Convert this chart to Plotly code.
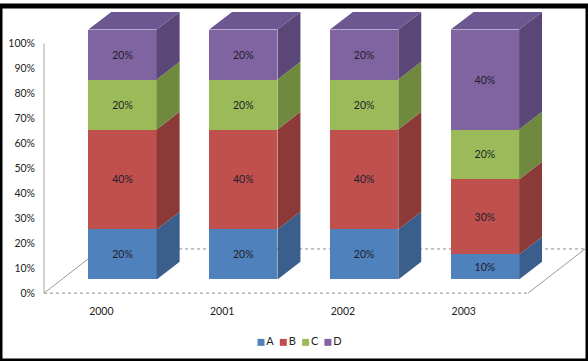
import plotly.graph_objects as go

# ---------------- data ----------------
years = ["2000", "2001", "2002", "2003"]
series_names = ["A", "B", "C", "D"]
series_A = [20, 20, 20, 10]
series_B = [40, 40, 40, 30]
series_C = [20, 20, 20, 20]
series_D = [20, 20, 20, 40]
y_ticks = [0, 10, 20, 30, 40, 50, 60, 70, 80, 90, 100]

# ---------------- styles ----------------
front_colors = ["#4F81BD", "#C0504D", "#9BBB59", "#8064A2"]
side_colors = ["#3A5F8D", "#8C3A38", "#6F8A3F", "#5B4777"]
top_color = "#6C5790"
FONT = "Lato"
W, H = 588, 361

# layout geometry (pixel based helpers)
CAT_PX0, CAT_PX = 122.5, 120.8          # px of first bar centre, px per category
PX_PER_PCT = 2.54                       # px per 1 %
AXIS_ZERO_PX, AXIS_TOP_PX = 292, 38     # y axis 0% / 100%
BAR_ZERO_PX = 278                       # front face bottom of bars
AXIS_BOTTOM_PX = 303
BAR_W = 0.566
DEPTH_DX, DEPTH_DY = 0.19, 7.09         # bar depth (category units, % units)
FLOOR_LEFT_PX, FLOOR_RIGHT_PX = 44, 528
FLOOR_DX, FLOOR_DY = 0.472, 17.7
LABEL_SHIFT = -0.175


def xval(px):
    return (px - CAT_PX0) / CAT_PX


def ydom(px):
    return (H - px) / H


series = [series_A, series_B, series_C, series_D]
xpos = list(range(len(years)))

fig = go.Figure()

# floor (on visible y axis subplot)
fl, fr = xval(FLOOR_LEFT_PX), xval(FLOOR_RIGHT_PX)
fig.add_trace(go.Scatter(
    x=[fl, fr, None, fl + FLOOR_DX, fr + FLOOR_DX],
    y=[0, 0, None, FLOOR_DY, FLOOR_DY],
    mode="lines", line=dict(color="#8c8c8c", width=1, dash="dot"),
    xaxis="x", yaxis="y", showlegend=False, hoverinfo="skip"))
fig.add_trace(go.Scatter(
    x=[fl, fl + FLOOR_DX, None, fr, fr + FLOOR_DX],
    y=[0, FLOOR_DY, None, 0, FLOOR_DY],
    mode="lines", line=dict(color="#9a9a9a", width=1),
    xaxis="x", yaxis="y", showlegend=False, hoverinfo="skip"))
# value axis line
fig.add_trace(go.Scatter(
    x=[fl, fl], y=[min(y_ticks), max(y_ticks)],
    mode="lines", line=dict(color="#a6a6a6", width=1),
    xaxis="x", yaxis="y", showlegend=False, hoverinfo="skip"))

# front faces (stacked bars)
for name, vals, col in zip(series_names, series, front_colors):
    fig.add_trace(go.Bar(
        x=xpos, y=vals, width=BAR_W, name=name,
        marker=dict(color=col, line=dict(width=0)),
        text=[f"{v}%" for v in vals], textposition="inside",
        insidetextanchor="middle", textangle=0,
        textfont=dict(family=FONT, size=10.5, color="#1e1e2a"),
        xaxis="x", yaxis="y2", showlegend=False, hoverinfo="skip"))

# side faces
cum = [0] * len(years)
for k, (vals, col) in enumerate(zip(series, side_colors)):
    xs, ys = [], []
    for i, v in enumerate(vals):
        xr = xpos[i] + BAR_W / 2
        y0, y1 = cum[i], cum[i] + v
        xs += [xr, xr + DEPTH_DX, xr + DEPTH_DX, xr, xr, None]
        ys += [y0, y0 + DEPTH_DY, y1 + DEPTH_DY, y1, y0, None]
        cum[i] = y1
    fig.add_trace(go.Scatter(
        x=xs, y=ys, mode="lines", fill="toself", fillcolor=col,
        line=dict(width=0, color=col), xaxis="x", yaxis="y2",
        showlegend=False, hoverinfo="skip"))

# top faces
xs, ys = [], []
for i, t in enumerate(cum):
    xl, xr = xpos[i] - BAR_W / 2, xpos[i] + BAR_W / 2
    xs += [xl, xl + DEPTH_DX, xr + DEPTH_DX, xr, xl, None]
    ys += [t, t + DEPTH_DY, t + DEPTH_DY, t, t, None]
fig.add_trace(go.Scatter(
    x=xs, y=ys, mode="lines", fill="toself", fillcolor=top_color,
    line=dict(width=0, color=top_color), xaxis="x", yaxis="y2",
    showlegend=False, hoverinfo="skip"))

# legend (markers + text on its own small axes)
fig.add_trace(go.Scatter(
    x=list(range(len(series_names))), y=[0] * len(series_names),
    mode="markers+text", text=series_names, textposition="middle right",
    marker=dict(symbol="square", size=7, color=front_colors),
    textfont=dict(family=FONT, size=11, color="#222"),
    xaxis="x3", yaxis="y3", showlegend=False, hoverinfo="skip",
    cliponaxis=False))

LEG_PX0, LEG_STEP = 261, 22.3
leg_dom = [0.40, 0.62]

fig.update_layout(
    width=W, height=H,
    margin=dict(l=0, r=0, t=0, b=0),
    paper_bgcolor="white", plot_bgcolor="rgba(0,0,0,0)",
    barmode="stack", bargap=0,
    font=dict(family=FONT, size=10.5, color="#222"),
    xaxis=dict(domain=[0, 1], range=[xval(0), xval(W)], anchor="y",
               tickvals=[p + LABEL_SHIFT for p in xpos], ticktext=years,
               showgrid=False, zeroline=False, showline=False, ticks="",
               ticklabelstandoff=0, tickfont=dict(family=FONT, size=10.5, color="#222")),
    yaxis=dict(domain=[ydom(AXIS_BOTTOM_PX), ydom(AXIS_TOP_PX)],
               range=[-(AXIS_BOTTOM_PX - AXIS_ZERO_PX) / PX_PER_PCT, 100],
               anchor="free", position=FLOOR_LEFT_PX / W,
               tickvals=y_ticks, ticktext=[f"{t}%" for t in y_ticks],
               showgrid=False, zeroline=False, showline=False, ticks="",
               ticklabelstandoff=9, tickfont=dict(family=FONT, size=10.5, color="#222")),
    yaxis2=dict(domain=[ydom(BAR_ZERO_PX), 1], range=[0, BAR_ZERO_PX / PX_PER_PCT],
                anchor="x", visible=False),
    xaxis3=dict(domain=leg_dom, anchor="y3", visible=False,
                range=[(leg_dom[0] * W - LEG_PX0) / LEG_STEP,
                       (leg_dom[1] * W - LEG_PX0) / LEG_STEP]),
    yaxis3=dict(domain=[0.0125, 0.0925], anchor="x3", visible=False, range=[-1, 1]),
    shapes=[dict(type="rect", xref="paper", yref="paper", x0=0, x1=1, y0=0, y1=1,
                 line=dict(color="black", width=5), fillcolor="rgba(0,0,0,0)")],
)

fig.write_html("out.html", config={"displayModeBar": False, "staticPlot": True},
               post_script="document.body.style.margin='0';document.body.style.overflow='hidden';")
